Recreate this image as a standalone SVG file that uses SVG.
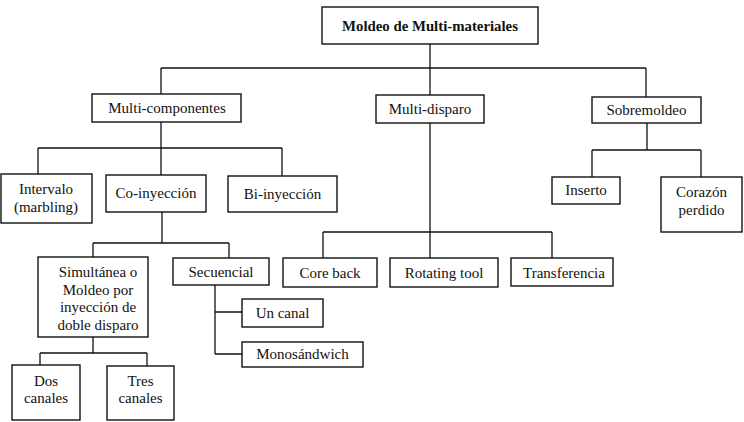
<svg xmlns="http://www.w3.org/2000/svg" width="744" height="422" viewBox="0 0 744 422">
<style>
.box{fill:#fff;stroke:#111;stroke-width:1.4}
.lbl{font-family:"Liberation Serif","Times New Roman",serif;font-size:15px;fill:#111;text-anchor:middle}
.ttl{font-weight:bold;font-size:14.8px}
.con{fill:none;stroke:#111;stroke-width:1.3}
</style>
<rect width="744" height="422" fill="#fff"/>
<g id="connectors" class="con">
<path d="M430,44V68M161,68H646M161,68V94M430,68V95M646,68V97"/>
<path d="M161,122V148M38,148H282M38,148V174M161,148V175M282,148V176"/>
<path d="M162,212V243M93,243H229M93,243V257M229,243V258"/>
<path d="M430,123V258M323,232H552M323,232V258M552,232V258"/>
<path d="M647,123V150M592,150H701M592,150V177M701,150V177"/>
<path d="M215,285V354M215,312H242M215,354H242"/>
<path d="M93,337V353M40,353H147M40,353V365M147,353V366"/>
</g>
<g id="n-root"><rect class="box" x="322" y="7" width="216" height="37"/><text class="lbl ttl" x="430" y="31">Moldeo de Multi-materiales</text></g>
<g id="n-multicomp"><rect class="box" x="92" y="94" width="149" height="28"/><text class="lbl" x="167" y="113">Multi-componentes</text></g>
<g id="n-multidisp"><rect class="box" x="376" y="95" width="108" height="28"/><text class="lbl" x="430" y="114">Multi-disparo</text></g>
<g id="n-sobre"><rect class="box" x="592" y="97" width="109" height="26"/><text class="lbl" x="646.5" y="115">Sobremoldeo</text></g>
<g id="n-intervalo"><rect class="box" x="1" y="174" width="91" height="49"/><text class="lbl" x="46" y="194">Intervalo</text><text class="lbl" x="46" y="212">(marbling)</text></g>
<g id="n-coiny"><rect class="box" x="106" y="175" width="100" height="37"/><text class="lbl" x="156" y="198">Co-inyección</text></g>
<g id="n-biiny"><rect class="box" x="228" y="176" width="109" height="36"/><text class="lbl" x="282.5" y="199">Bi-inyección</text></g>
<g id="n-inserto"><rect class="box" x="552" y="177" width="68" height="27"/><text class="lbl" x="586" y="195">Inserto</text></g>
<g id="n-corazon"><rect class="box" x="661" y="177" width="81" height="55"/><text class="lbl" x="701.5" y="197">Corazón</text><text class="lbl" x="701.5" y="215">perdido</text></g>
<g id="n-simul"><rect class="box" x="38" y="257" width="110" height="80"/><text class="lbl" x="98" y="277">Simultánea o</text><text class="lbl" x="98" y="294.5">Moldeo por</text><text class="lbl" x="98" y="312">inyección de</text><text class="lbl" x="98" y="329.5">doble disparo</text></g>
<g id="n-secuencial"><rect class="box" x="173" y="258" width="96" height="27"/><text class="lbl" x="221" y="277">Secuencial</text></g>
<g id="n-coreback"><rect class="box" x="283" y="258" width="94" height="29"/><text class="lbl" x="330" y="278">Core back</text></g>
<g id="n-rotating"><rect class="box" x="390" y="258" width="108" height="29"/><text class="lbl" x="444" y="278">Rotating tool</text></g>
<g id="n-transf"><rect class="box" x="511" y="258" width="102" height="28"/><text class="lbl" x="564" y="278">Transferencia</text></g>
<g id="n-uncanal"><rect class="box" x="242" y="299" width="81" height="28"/><text class="lbl" x="282.5" y="318">Un canal</text></g>
<g id="n-mono"><rect class="box" x="242" y="342" width="121" height="25"/><text class="lbl" x="302.5" y="359">Monosándwich</text></g>
<g id="n-dos"><rect class="box" x="12" y="365" width="68" height="55"/><text class="lbl" x="46" y="386">Dos</text><text class="lbl" x="46" y="403">canales</text></g>
<g id="n-tres"><rect class="box" x="107" y="366" width="67" height="54"/><text class="lbl" x="140.5" y="386">Tres</text><text class="lbl" x="140.5" y="403">canales</text></g>
</svg>
